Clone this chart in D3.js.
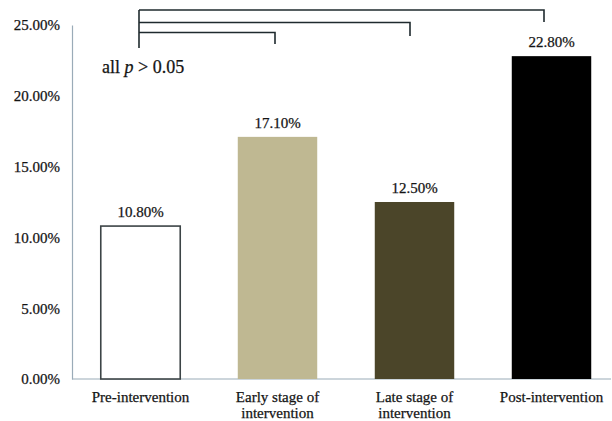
<!DOCTYPE html>
<html>
<head>
<meta charset="utf-8">
<script src="https://cdn.jsdelivr.net/npm/d3@7/dist/d3.min.js"></script>
<style>
  html, body { margin: 0; padding: 0; background: #ffffff; }
  svg { display: block; }
  text { font-family: "Liberation Serif", "Times New Roman", serif; fill: #141414; stroke: #141414; stroke-width: 0.25px; }
</style>
</head>
<body>
<svg id="chart" width="612" height="421"></svg>
<script>
// Proportion per intervention stage
const categories = ["Pre-intervention", "Early stage of\nintervention", "Late stage of\nintervention", "Post-intervention"];
const values = [10.8, 17.1, 12.5, 22.8];
const barColors = ["#ffffff", "#bfb892", "#4b4529", "#000000"];
const yTicks = [0, 5, 10, 15, 20, 25];
// Comparison brackets: every stage against pre-intervention
const comparisons = [[0, 3], [0, 2], [0, 1]];

const svg = d3.select("#chart");
const x0 = 72, x1 = 620, yBase = 379, yTop = 25;

const x = d3.scaleBand()
  .domain(d3.range(categories.length))
  .range([x0, x1])
  .paddingInner(0.42)
  .paddingOuter(0.21);

const y = d3.scaleLinear().domain([0, 25]).range([yBase, yTop]);

// Y axis with percentage labels
const yAxis = d3.axisLeft(y).tickValues(yTicks).tickSize(0).tickPadding(12)
  .tickFormat(d => d.toFixed(2) + "%");
const gy = svg.append("g").attr("transform", `translate(${x0},0)`).call(yAxis);
gy.select(".domain").attr("stroke", "#9aabb8").attr("stroke-width", 1.2);
gy.selectAll("text").style("font-size", "15px").attr("fill", "#141414")
  .style("font-family", "'Liberation Serif', 'Times New Roman', serif");

// Baseline
svg.append("line")
  .attr("x1", x0).attr("x2", 611)
  .attr("y1", yBase).attr("y2", yBase)
  .attr("stroke", "#9aabb8").attr("stroke-width", 1.2);

// Bars
svg.selectAll("rect.bar").data(values).enter().append("rect")
  .attr("class", "bar")
  .attr("x", (d, i) => x(i))
  .attr("width", x.bandwidth())
  .attr("y", d => y(d))
  .attr("height", d => yBase - y(d))
  .attr("fill", (d, i) => barColors[i])
  .attr("stroke", (d, i) => i === 0 ? "#3c4446" : "none")
  .attr("stroke-width", 1.6);

// Value labels
svg.selectAll("text.val").data(values).enter().append("text")
  .attr("class", "val")
  .attr("x", (d, i) => x(i) + x.bandwidth() / 2)
  .attr("y", d => y(d) - 9)
  .attr("text-anchor", "middle")
  .style("font-size", "15px")
  .text(d => d.toFixed(2) + "%");

// Category labels (two lines where needed)
const cat = svg.selectAll("text.cat").data(categories).enter().append("text")
  .attr("class", "cat")
  .attr("x", (d, i) => x(i) + x.bandwidth() / 2)
  .attr("y", 402)
  .attr("text-anchor", "middle")
  .style("font-size", "15px");
cat.each(function(d) {
  const t = d3.select(this);
  d.split("\n").forEach((line, k) => {
    t.append("tspan")
      .attr("x", t.attr("x"))
      .attr("dy", k === 0 ? 0 : 16)
      .text(line);
  });
});

// Significance brackets
const cx = i => x(i) + x.bandwidth() / 2;
const bracketY = [10, 22.5, 32.5];
const dropLen = [12, 13.5, 11.5];
const startX = cx(0) - 1.5;
const bracket = svg.append("g").attr("fill", "none").attr("stroke", "#1f2a2e").attr("stroke-width", 1.6);
bracket.append("line")
  .attr("x1", startX).attr("x2", startX)
  .attr("y1", bracketY[0]).attr("y2", 48);
comparisons.forEach((c, k) => {
  const ex = cx(c[1]) - [7.5, 4.5, 2.5][k];
  bracket.append("path")
    .attr("d", `M${startX},${bracketY[k]}H${ex}V${bracketY[k] + dropLen[k]}`);
});

// Note text with italic p
const note = svg.append("text")
  .attr("x", 102).attr("y", 73)
  .style("font-size", "18px");
note.append("tspan").text("all ");
note.append("tspan").style("font-style", "italic").text("p");
note.append("tspan").text(" > 0.05");
</script>
</body>
</html>
